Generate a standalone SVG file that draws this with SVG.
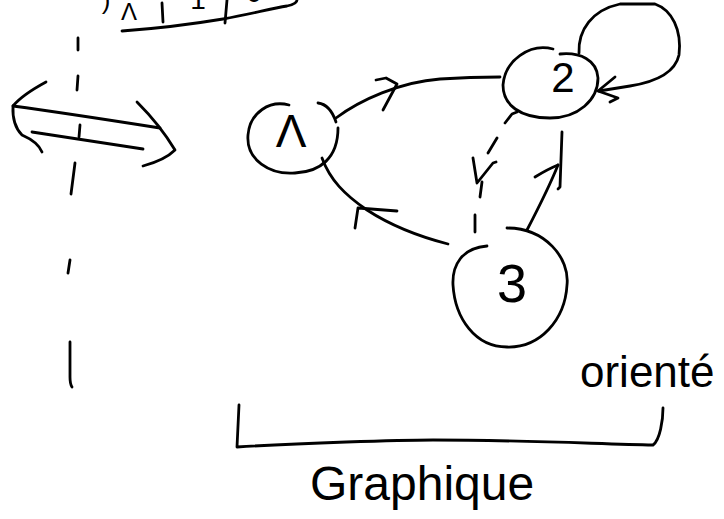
<svg xmlns="http://www.w3.org/2000/svg" width="724" height="519" viewBox="0 0 724 519">
  <style>
    .ink { fill: none; stroke: #000; stroke-width: 2.8; stroke-linecap: round; stroke-linejoin: round; }
    .lbl { font-family: "Liberation Sans", "DejaVu Sans", sans-serif; fill: #000; }
  </style>
  <rect width="724" height="519" fill="#fff"/>

  <!-- table fragment at the top edge -->
  <g id="table-top">
    <path class="ink" d="M 122,31 C 150,29 175,27 223,19 C 250,14 270,9 287,6 Q 297,4 297,0"/>
    <path class="ink" d="M 162,3 L 163,22"/>
    <path class="ink" d="M 227,0 L 225,23"/>
    <text class="lbl" x="106" y="9" font-size="26" text-anchor="middle">)</text>
    <text class="lbl" x="129" y="20" font-size="24" text-anchor="middle">Λ</text>
    <text class="lbl" x="198" y="9" font-size="28" text-anchor="middle">1</text>
    <text class="lbl" x="254" y="2" font-size="28" text-anchor="middle">0</text>
  </g>

  <!-- dashed separator and double arrow on the left -->
  <g id="separator">
    <path class="ink" d="M 78,38 L 78,50 M 78,76 L 77,90 M 80,125 L 79,137 M 75,163 L 71,194 M 70,260 L 68,273 M 70,342 L 70,377 Q 70,384 72,387"/>
  </g>
  <g id="double-arrow">
    <path class="ink" d="M 13,106 C 50,111 90,117 160,128"/>
    <path class="ink" d="M 46,82 Q 22,95 13,106 Q 12,125 22,135 Q 38,142 42,152"/>
    <path class="ink" d="M 32,132 L 143,149"/>
    <path class="ink" d="M 137,102 Q 160,125 175,150 Q 165,160 143,166"/>
  </g>

  <!-- nodes -->
  <g id="node-1">
    <path class="ink" d="M 289,105 C 270,100 250,112 248,135 C 246,160 270,175 295,173 C 320,172 338,158 338,128"/>
    <path class="ink" d="M 318,103 C 326,104 332,110 336,122"/>
    <text class="lbl" x="291" y="147" font-size="46" text-anchor="middle">Λ</text>
  </g>
  <g id="node-2">
    <path class="ink" d="M 553,49 C 530,43 505,60 503,85 C 503,105 520,118 550,118 C 578,118 598,100 598,78 C 597,60 580,52 560,54"/>
    <text class="lbl" x="563" y="92" font-size="42" text-anchor="middle">2</text>
  </g>
  <g id="node-3">
    <path class="ink" d="M 507,228 C 545,228 570,258 567,285 C 565,320 540,348 507,347 C 475,347 455,318 453,285 C 452,265 462,248 487,246"/>
    <text class="lbl" x="512" y="302" font-size="54" text-anchor="middle">3</text>
  </g>

  <!-- connectors -->
  <g id="edges">
    <!-- 1 to 2 -->
    <path class="ink" d="M 336,118 C 360,100 400,82 440,79 C 470,77 490,77 500,77"/>
    <path class="ink" d="M 376,80 L 386,78 L 397,84 L 383,110"/>
    <!-- 2 self loop -->
    <path class="ink" d="M 579,53 C 578,30 592,10 620,4 L 655,4 C 672,10 682,30 679,55 C 675,73 655,82 630,86 L 599,91"/>
    <path class="ink" d="M 615,77 L 598,91 L 618,98 L 610,102"/>
    <!-- 3 to 1 -->
    <path class="ink" d="M 448,244 C 417,236 390,225 367,210 C 345,195 330,180 322,158"/>
    <path class="ink" d="M 397,211 L 358,208 L 355,228"/>
    <!-- 3 to 2 -->
    <path class="ink" d="M 527,230 C 540,205 550,185 558,165"/>
    <path class="ink" d="M 562,132 L 560,187 L 558,189"/>
    <path class="ink" d="M 535,177 Q 548,169 558,165"/>
    <!-- 2 to 3, dashed -->
    <path class="ink" d="M 505,123 L 512,114 L 517,112 M 497,138 L 488,153 M 473,158 L 477,183 L 493,163 L 496,162 M 482,182 L 480,197 M 475,215 L 475,232"/>
  </g>

  <!-- bracket and captions -->
  <g id="bracket">
    <path class="ink" d="M 239,405 L 237,447 C 300,443 400,440 433,440 C 520,440 600,444 653,445 C 660,440 663,420 663,408"/>
  </g>
  <g id="captions">
    <text class="lbl" x="580" y="387" font-size="44">orienté</text>
    <text class="lbl" x="310" y="500" font-size="48">Graphique</text>
  </g>
</svg>
